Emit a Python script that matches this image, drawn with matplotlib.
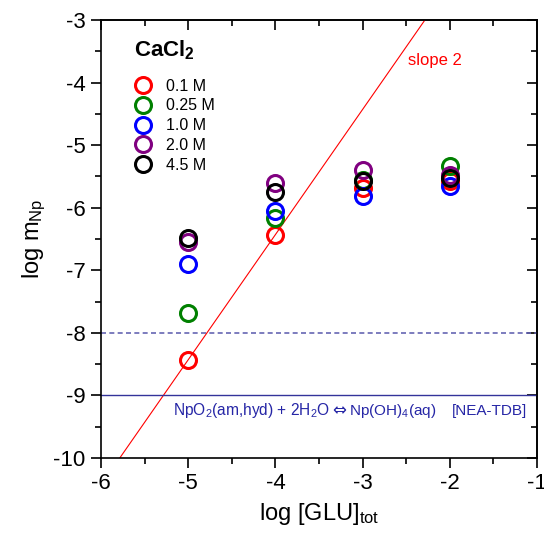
import numpy as np
import matplotlib.pyplot as plt
from matplotlib.ticker import MultipleLocator

plt.rcParams['font.family'] = ['Liberation Sans', 'DejaVu Sans']
plt.rcParams['mathtext.fontset'] = 'custom'
plt.rcParams['mathtext.rm'] = 'Liberation Sans'
plt.rcParams['mathtext.it'] = 'Liberation Sans:italic'
plt.rcParams['mathtext.bf'] = 'Liberation Sans:bold'

log_glu = [-5, -4, -3, -2]
labels = ['0.1 M', '0.25 M', '1.0 M', '2.0 M', '4.5 M']
colors = ['red', 'green', 'blue', 'purple', 'black']
log_np = {
    '0.1 M': [-8.43, -6.43, -5.69, -5.58],
    '0.25 M': [-7.68, -6.16, -5.55, -5.33],
    '1.0 M': [-6.90, -6.06, -5.81, -5.66],
    '2.0 M': [-6.55, -5.61, -5.40, -5.48],
    '4.5 M': [-6.48, -5.75, -5.58, -5.52],
}
slope = 2
intercept = 1.57
solubility_dashed = -8
solubility_nea = -9

fig = plt.figure(figsize=(5.44, 5.41), dpi=100)
ax = fig.add_axes([0.1857, 0.1534, 0.8013, 0.8096])

xs = np.array([-6, -1])
ax.plot(xs, slope * xs + intercept, color='red', lw=0.8, zorder=1)
ax.axhline(solubility_dashed, color='#6666b3', lw=1.2, ls=(0, (3, 2)), zorder=1)
ax.axhline(solubility_nea, color='#33339a', lw=1.0, zorder=1)

handles = []
for lab, col in zip(labels, colors):
    h, = ax.plot(log_glu, log_np[lab], ls='none', marker='o', ms=11.5,
                 mfc='none', mec=col, mew=2.2, label=lab, zorder=3)
    handles.append(h)

ax.set_xlim(-6, -1)
ax.set_ylim(-10, -3)
ax.xaxis.set_major_locator(MultipleLocator(1))
ax.xaxis.set_minor_locator(MultipleLocator(0.5))
ax.yaxis.set_major_locator(MultipleLocator(1))
ax.yaxis.set_minor_locator(MultipleLocator(0.5))
ax.tick_params(which='both', direction='out', top=False, right=False, width=1.2, labelsize=16, pad=4)
ax.tick_params(which='major', length=7)
ax.tick_params(which='minor', length=4)
ax.xaxis.set_major_formatter(plt.FuncFormatter(lambda v, p: '%d' % v))
ax.yaxis.set_major_formatter(plt.FuncFormatter(lambda v, p: '%d' % v))

sec_x = ax.secondary_xaxis('top')
sec_x.xaxis.set_major_locator(MultipleLocator(1))
sec_x.xaxis.set_minor_locator(MultipleLocator(0.5))
sec_x.tick_params(which='both', direction='in', width=1.2, labeltop=False)
sec_x.tick_params(which='major', length=7)
sec_x.tick_params(which='minor', length=4)
sec_y = ax.secondary_yaxis('right')
sec_y.yaxis.set_major_locator(MultipleLocator(1))
sec_y.yaxis.set_minor_locator(MultipleLocator(0.5))
sec_y.tick_params(which='both', direction='in', width=1.2, labelright=False)
sec_y.tick_params(which='major', length=7)
sec_y.tick_params(which='minor', length=4)
for s in ax.spines.values():
    s.set_linewidth(1.2)
sec_x.spines['top'].set_linewidth(1.2)
sec_y.spines['right'].set_linewidth(1.2)

ax.set_xlabel(r'log [GLU]$_{\rm tot}$', fontsize=17, labelpad=5)
ax.set_ylabel(r'log m$_{\rm Np}$', fontsize=17, labelpad=4)

ax.text(-5.62, -3.48, r'CaCl$_{\bf 2}$', fontsize=16, fontweight='bold', va='center')
leg = ax.legend(handles=handles, loc='upper left', bbox_to_anchor=(0.076, 0.866),
                frameon=False, fontsize=11.5, handletextpad=0.85, labelspacing=0.3,
                handlelength=1.15, borderaxespad=0, borderpad=0)

ax.text(-2.48, -3.64, 'slope 2', color='red', fontsize=12, va='center')

# reaction text in pieces so the arrow can use DejaVu Sans
eq_color = '#2626a6'
eq_y = -9.32
fig.canvas.draw()
renderer = fig.canvas.get_renderer()
t1 = ax.text(-5.175, eq_y, 'NpO$_2$(am,hyd) + 2H$_2$O', color=eq_color,
             fontsize=11.2, va='baseline')
x_end = ax.transData.inverted().transform(t1.get_window_extent(renderer))[1, 0]
t2 = ax.text(x_end + 0.03, eq_y, '\u21d4', color=eq_color, fontsize=12,
             family='DejaVu Sans', va='baseline')
x_end = ax.transData.inverted().transform(t2.get_window_extent(renderer))[1, 0]
ax.text(x_end + 0.03, eq_y, 'Np(OH)$_4$(aq)', color=eq_color,
        fontsize=11, va='baseline')
ax.text(-1.97, eq_y, '[NEA-TDB]', color=eq_color, fontsize=11, va='baseline')

fig.savefig('out.png', dpi=100)
